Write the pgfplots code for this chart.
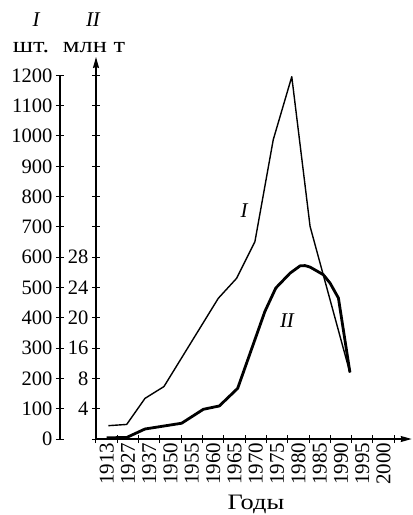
\documentclass[border=0pt]{standalone}
\usepackage{pgfplots}
\pgfplotsset{compat=1.18}
\usepackage{fontspec}
\setmainfont{Liberation Serif}
\newfontfamily\cyr[FakeStretch=1.2]{Liberation Serif}
\usetikzlibrary{arrows.meta}
\pgfplotstableread{
x y
0.08 44
0.94 48
1.80 134
2.69 173
5.24 464
6.10 530
6.96 651
7.82 987
8.69 1195
9.55 701
11.42 219
}\seriesI
\pgfplotstableread{
x y
0.00 0.16
0.94 0.20
1.80 1.32
3.52 2.08
4.54 3.92
5.29 4.36
6.15 6.68
7.43 16.84
7.94 19.92
8.61 21.88
9.08 22.84
9.31 22.88
9.55 22.68
10.17 21.68
10.49 20.56
10.88 18.60
11.42 8.80
}\seriesII
\begin{document}
\begin{tikzpicture}
\useasboundingbox (-96pt,-76pt) rectangle (317pt,439pt);
\pgfplotsset{
  common/.style={
    scale only axis,
    /pgf/number format/assume math mode=true,
    /pgf/number format/1000 sep={},
    tick align=center,
    major tick length=8pt,
    tick style={line width=1pt, black},
    tick label style={font=\fontsize{20.5}{24}\selectfont, black},
  }
}
% Axis I (left scale, pieces)
\begin{axis}[common,
  at={(-36pt,0pt)}, anchor=south west,
  width=10pt, height=363.6pt,
  xmin=0, xmax=1, ymin=0, ymax=1200,
  axis x line=none, axis y line=left,
  axis line style={line width=1.1pt, -},
  ytick={0,100,...,1200},
  yticklabel={\pgfmathprintnumber{\tick}},
]
\addplot[draw=none] coordinates {(0.5,0)};
\end{axis}
% Main axis (II scale labels, x axis) with series I
\begin{axis}[common,
  at={(0pt,0pt)}, anchor=south west,
  width=315.7pt, height=382pt,
  xmin=-0.5, xmax=14.32, ymin=0, ymax=1260,
  axis lines=left,
  axis line style={line width=1.1pt, -{Stealth[length=11pt,width=6pt,inset=1pt]}},
  ytick={0,100,...,1200},
  yticklabels={,4,8,16,20,24,28,,,,,,},
  xtick={-0.5,0.5,...,13.5},
  xticklabels={},
  extra x ticks={0,1,...,13},
  extra x tick labels={1913,1927,1937,1950,1955,1960,1965,1970,1975,1980,1985,1990,1995,2000},
  extra x tick style={major tick length=0pt, tick label style={rotate=90, anchor=east, font=\fontsize{21}{24}\selectfont}},
  clip=false,
]
\addplot[black, line width=1.4pt, line join=round] table[x=x,y=y] {\seriesI};
\end{axis}
% Overlay axis for series II (million tonnes)
\begin{axis}[common,
  at={(0pt,0pt)}, anchor=south west,
  width=315.7pt, height=382pt,
  xmin=-0.5, xmax=14.32, ymin=0, ymax=50.4,
  hide axis, clip=false,
]
\addplot[black, line width=2.8pt, line join=round] table[x=x,y=y] {\seriesII};
\end{axis}
\begin{scope}[font=\fontsize{21}{24}\selectfont]
\node[anchor=base] at (-60pt,412pt) {\itshape I};
\node[anchor=base] at (-3pt,412pt) {\itshape II};
\node[anchor=base,font=\cyr\fontsize{22}{26}\selectfont] at (-65pt,386pt) {шт.};
\node[anchor=base,font=\cyr\fontsize{22}{26}\selectfont] at (-2pt,386pt) {млн т};
\node[anchor=base] at (148pt,221pt) {\itshape I};
\node[anchor=base] at (191pt,112pt) {\itshape II};
\node[anchor=base,font=\cyr\fontsize{22}{26}\selectfont] at (160pt,-70pt) {Годы};
\end{scope}
\end{tikzpicture}
\end{document}
